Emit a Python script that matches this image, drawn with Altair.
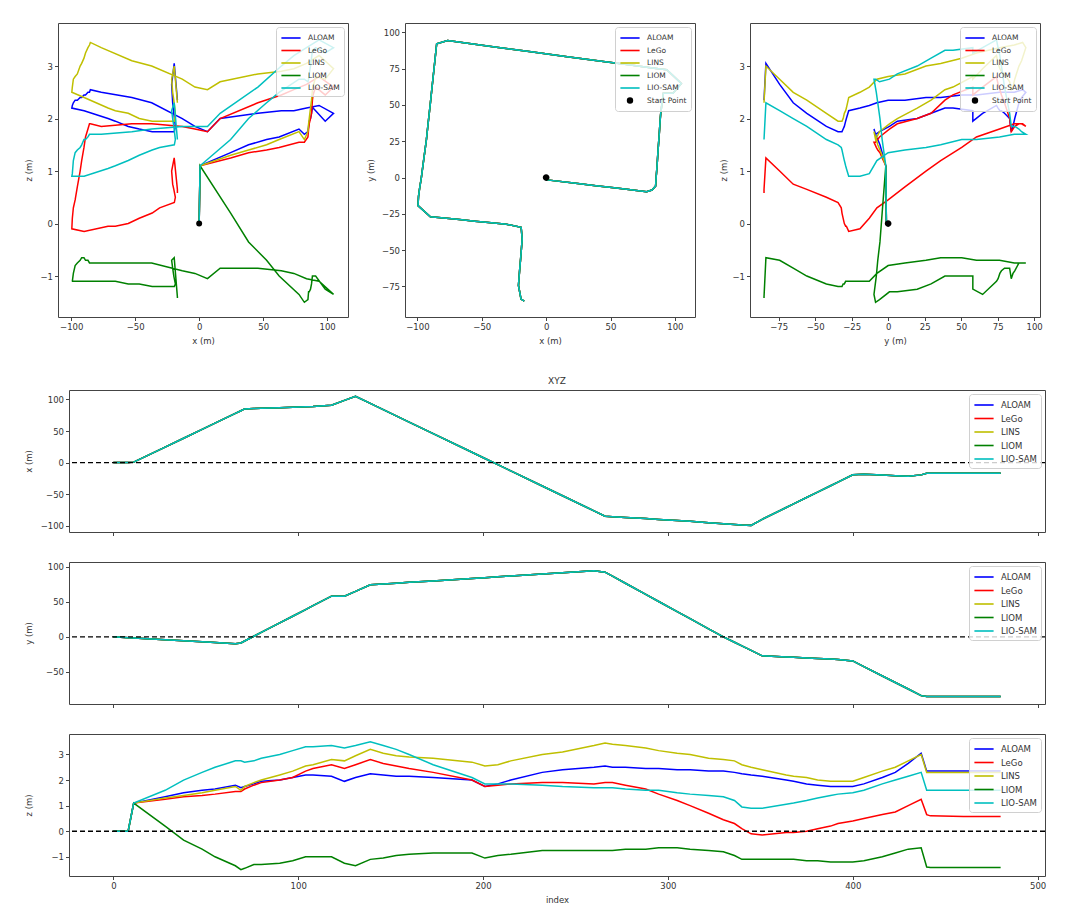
import altair as alt
import pandas as pd

SERIES = ["ALOAM", "LeGo", "LINS", "LIOM", "LIO-SAM"]
COLORS = ["#0000ff", "#ff0000", "#bfbf00", "#008000", "#00bfbf"]

T = [0, 8, 11, 28, 38, 48, 55, 66, 69, 71, 76, 80, 90, 97, 104, 108, 118, 125, 131, 139,
     146, 153, 160, 173, 194, 201, 208, 215, 232, 243, 260, 266, 270, 277, 288, 295, 305, 312, 322, 330,
     336, 340, 345, 351, 364, 368, 375, 381, 388, 392, 400, 406, 416, 423, 430, 437, 440, 442, 460, 480]

X_M = [0, 0, 0.7, 24.6, 38.6, 52.7, 62.5, 78, 82.2, 85, 85.5, 86, 87, 87.8, 88.5, 89, 91, 98.5, 105, 93.7,
       83.9, 74, 64.2, 45.9, 16.4, 6.5, -3.3, -13.2, -37.1, -52.6, -76.5, -85, -85.7, -86.9, -88.8, -90, -91.8, -93, -95.2, -96.9,
       -98.3, -99.1, -99.5, -89.9, -71.2, -65.5, -55.4, -46.8, -36.7, -30.9, -19.4, -18.6, -19.8, -20.7, -21.5, -19.5, -17, -17, -17, -17]

Y_M = [0, -1.2, -1.6, -4.1, -5.6, -7.1, -8.1, -9.7, -8.6, -5.9, 0.9, 6.3, 19.9, 29.4, 38.9, 44.4, 58, 58, 64.7, 74.2,
       75.3, 76.5, 77.6, 79.7, 83.2, 84.3, 85.5, 86.7, 89.6, 91.4, 94.3, 92.1, 86.4, 76.3, 60.5, 50.4, 36, 25.9, 11.5, 0,
       -7.7, -12.9, -19.3, -27, -28.6, -29.1, -30, -30.8, -31.6, -32.1, -34.3, -42.3, -55.7, -65, -74.3, -83.7, -85, -85, -85, -85]

Z_ALOAM = [0, 0, 1.1, 1.35, 1.5, 1.6, 1.65, 1.8, 1.7, 1.75, 1.85, 1.95, 2.0, 2.1, 2.2, 2.2, 2.15, 1.95, 2.1, 2.25,
           2.2, 2.15, 2.15, 2.1, 2.0, 1.75, 1.85, 2.0, 2.3, 2.4, 2.5, 2.55, 2.5, 2.5, 2.45, 2.45, 2.4, 2.4, 2.35, 2.35,
           2.3, 2.25, 2.2, 2.15, 2.0, 1.95, 1.85, 1.8, 1.75, 1.75, 1.75, 1.85, 2.1, 2.3, 2.65, 3.05, 2.35, 2.35, 2.35, 2.35]
Z_LEGO = [0, 0, 1.1, 1.25, 1.35, 1.4, 1.45, 1.55, 1.55, 1.65, 1.8, 1.9, 2.0, 2.1, 2.35, 2.45, 2.6, 2.45, 2.6, 2.8,
          2.65, 2.55, 2.45, 2.3, 2.0, 1.75, 1.8, 1.85, 1.9, 1.9, 1.85, 1.9, 1.9, 1.8, 1.65, 1.45, 1.2, 1.0, 0.7, 0.45,
          0.3, 0.1, -0.1, -0.15, -0.05, -0.05, 0.0, 0.1, 0.2, 0.3, 0.4, 0.5, 0.65, 0.75, 1.0, 1.25, 0.65, 0.6, 0.58, 0.58]
Z_LINS = [0, 0, 1.1, 1.3, 1.4, 1.5, 1.6, 1.75, 1.6, 1.75, 1.9, 2.0, 2.2, 2.35, 2.55, 2.6, 2.8, 2.75, 2.95, 3.2,
          3.05, 2.95, 2.9, 2.85, 2.7, 2.55, 2.6, 2.75, 3.0, 3.1, 3.35, 3.45, 3.4, 3.35, 3.25, 3.15, 3.05, 3.0, 2.85, 2.8,
          2.75, 2.6, 2.5, 2.4, 2.2, 2.15, 2.1, 2.0, 1.95, 1.95, 1.95, 2.1, 2.35, 2.5, 2.75, 3.0, 2.3, 2.3, 2.3, 2.3]
Z_LIOM = [0, 0, 1.1, 0.2, -0.35, -0.7, -1.0, -1.35, -1.5, -1.45, -1.3, -1.3, -1.25, -1.15, -1.0, -1.0, -1.0, -1.25, -1.35, -1.1,
          -1.05, -0.95, -0.9, -0.85, -0.85, -1.05, -0.95, -0.9, -0.75, -0.75, -0.75, -0.75, -0.75, -0.7, -0.7, -0.65, -0.65, -0.7, -0.75, -0.8,
          -0.95, -1.1, -1.1, -1.1, -1.1, -1.1, -1.15, -1.15, -1.2, -1.2, -1.2, -1.15, -1.0, -0.85, -0.7, -0.65, -1.4, -1.42, -1.42, -1.42]
Z_LIOSAM = [0, 0, 1.1, 1.6, 2.0, 2.3, 2.5, 2.75, 2.75, 2.7, 2.75, 2.85, 3.0, 3.15, 3.3, 3.3, 3.35, 3.25, 3.35, 3.5,
            3.35, 3.2, 3.0, 2.6, 2.1, 1.85, 1.85, 1.85, 1.8, 1.75, 1.7, 1.7, 1.7, 1.65, 1.6, 1.6, 1.5, 1.45, 1.4, 1.35,
            1.2, 0.95, 0.9, 0.9, 1.05, 1.1, 1.2, 1.3, 1.4, 1.45, 1.5, 1.6, 1.85, 2.0, 2.15, 2.3, 1.6, 1.6, 1.6, 1.6]

START_LABEL = ["Start Point"]
START_X = [0]
START_Y = [0]
START_Z = [0]

Z_BY_SERIES = dict(zip(SERIES, [Z_ALOAM, Z_LEGO, Z_LINS, Z_LIOM, Z_LIOSAM]))

rows = []
for s in SERIES:
    for t, x, y, z in zip(T, X_M, Y_M, Z_BY_SERIES[s]):
        rows.append({"series": s, "t": t, "x": x, "y": y, "z": z})
df = pd.DataFrame(rows)
start_df = pd.DataFrame({"series": START_LABEL, "x": START_X, "y": START_Y, "z": START_Z})
zero_df = pd.DataFrame({"v": [0]})

FONT = "DejaVu Sans"
MINUS = "replace(datum.label, '-', '\u2212')"
LINE_SYM = "M-1.6,0H1.6"
DOT_SYM = ("M-0.4,0a0.4,0.4 0 1,0 0.8,0a0.4,0.4 0 1,0 -0.8,0Z"
           "M-0.15,0a0.15,0.15 0 1,0 0.3,0a0.15,0.15 0 1,0 -0.3,0Z")
LW = 1.5


def make_legend(font_size):
    return alt.Legend(title=None, orient="top-right", offset=4, symbolType=LINE_SYM,
                      labelFontSize=font_size, symbolSize=144, symbolStrokeWidth=1.6,
                      symbolOffset=4, labelOffset=10)


def axis(vals, title, labels=True, tpad=5, ext=None):
    kw = dict(values=vals, title=title, labels=labels, labelExpr=MINUS, format="d",
              labelOverlap=False, titlePadding=tpad)
    if ext is not None:
        kw["minExtent"] = ext
        kw["maxExtent"] = ext
    return alt.Axis(**kw)


def traj(xf, yf, xdom, ydom, xt, yt, xtitle, ytitle, with_start, yext, ytp):
    dom = SERIES + (["Start Point"] if with_start else [])
    rng = COLORS + (["black"] if with_start else [])
    cs = alt.Scale(domain=dom, range=rng)
    lg = make_legend(7.5)
    xs = alt.Scale(domain=xdom, nice=False, zero=False)
    ys = alt.Scale(domain=ydom, nice=False, zero=False)
    X = alt.X(f"{xf}:Q", scale=xs, axis=axis(xt, xtitle))
    Y = alt.Y(f"{yf}:Q", scale=ys, axis=axis(yt, ytitle, tpad=ytp, ext=yext))
    layers = []
    for s in SERIES:
        layers.append(
            alt.Chart(df).transform_filter(alt.datum.series == s)
            .mark_line(strokeWidth=LW, opacity=1, clip=True)
            .encode(x=X, y=Y, order="t:Q", color=alt.Color("series:N", scale=cs, legend=lg))
        )
    if with_start:
        shp = alt.Scale(domain=dom, range=[LINE_SYM] * len(SERIES) + [DOT_SYM])
        pt = alt.Chart(start_df).mark_point(filled=True, size=280, opacity=1).encode(
            x=X, y=Y,
            color=alt.Color("series:N", scale=cs, legend=lg),
            shape=alt.Shape("series:N", scale=shp, legend=lg))
    else:
        pt = alt.Chart(start_df).mark_point(filled=True, size=35, opacity=1, shape="circle",
                                            color="black").encode(x=X, y=Y)
    return alt.layer(*layers, pt).properties(width=290, height=294)


def ts(field, ydom, yt, ytitle, last, title=None):
    cs = alt.Scale(domain=SERIES, range=COLORS)
    lg = make_legend(8.5)
    ys = alt.Scale(domain=ydom, nice=False, zero=False)
    X = alt.X("t:Q", scale=alt.Scale(domain=[-24, 504], nice=False, zero=False),
              axis=axis([0, 100, 200, 300, 400, 500], "index" if last else None, labels=last))
    Y = alt.Y(f"{field}:Q", scale=ys, axis=axis(yt, ytitle, tpad=5, ext=31))
    layers = []
    for s in SERIES:
        layers.append(
            alt.Chart(df).transform_filter(alt.datum.series == s)
            .mark_line(strokeWidth=LW, opacity=1, clip=True)
            .encode(x=X, y=Y, color=alt.Color("series:N", scale=cs, legend=lg))
        )
    Yr = alt.Y("v:Q", scale=ys, axis=axis(yt, ytitle, tpad=5, ext=31))
    rule = alt.Chart(zero_df).mark_rule(color="black", strokeDash=[5, 3], strokeWidth=1.3).encode(y=Yr)
    ch = alt.layer(*layers, rule).properties(width=976, height=142)
    if title:
        ch = ch.properties(title=alt.Title(title, frame="group", offset=4))
    return ch


p1 = traj("x", "z", [-110.3, 116.3], [-1.78, 3.82], [-100, -50, 0, 50, 100], [-1, 0, 1, 2, 3],
          "x (m)", "z (m)", False, 19, 6)
p2 = traj("x", "y", [-109.6, 115.6], [-96, 106.4], [-100, -50, 0, 50, 100],
          [-75, -50, -25, 0, 25, 50, 75, 100], "x (m)", "y (m)", True, 29, 1)
p3 = traj("y", "z", [-94.6, 104], [-1.78, 3.82], [-75, -50, -25, 0, 25, 50, 75, 100], [-1, 0, 1, 2, 3],
          "y (m)", "z (m)", True, 18, 4)
top = alt.hconcat(
    alt.hconcat(p1, p2, spacing=16).resolve_scale(color="independent", shape="independent"),
    p3, spacing=22).resolve_scale(color="independent", shape="independent")

b1 = ts("x", [-110, 115], [-100, -50, 0, 50, 100], "x (m)", False, title="XYZ")
b2 = ts("y", [-95.6, 106.6], [-50, 0, 50, 100], "y (m)", False)
b3 = ts("z", [-1.75, 3.8], [-1, 0, 1, 2, 3], "z (m)", True)
bottom_stack = alt.vconcat(b1, b2, b3, spacing=24).resolve_scale(color="independent")

# invisible 1px cell that lets the lower block start further right than the upper one
spacer = alt.Chart(zero_df).mark_point(opacity=0).encode(
    x=alt.X("v:Q", axis=None), y=alt.Y("v:Q", axis=None)
).properties(width=1, height=1, view=alt.ViewBackground(strokeOpacity=0))
bottom = alt.hconcat(spacer, bottom_stack, spacing=-39).resolve_scale(color="independent")

chart = alt.vconcat(top, bottom, spacing=31).resolve_scale(
    color="independent", shape="independent"
).properties(
    padding={"left": 15, "top": 14, "right": 5, "bottom": 5}
).configure(font=FONT).configure_view(stroke="#444", strokeWidth=1).configure_axis(
    domain=False, grid=False, tickColor="#444", tickSize=3.5, labelFontSize=8.5, titleFontSize=8.5,
    labelColor="#333", titleColor="#333", titleFontWeight="normal", labelPadding=2,
    labelFont=FONT, titleFont=FONT
).configure_legend(
    fillColor="rgba(255,255,255,0.8)", strokeColor="#d0d0d0", cornerRadius=3, padding=4,
    rowPadding=1.5, labelFont=FONT, labelColor="#333"
).configure_title(fontSize=9, fontWeight="normal", font=FONT, color="#333")

chart.save("out.html", embed_options={"renderer": "svg", "actions": False})
